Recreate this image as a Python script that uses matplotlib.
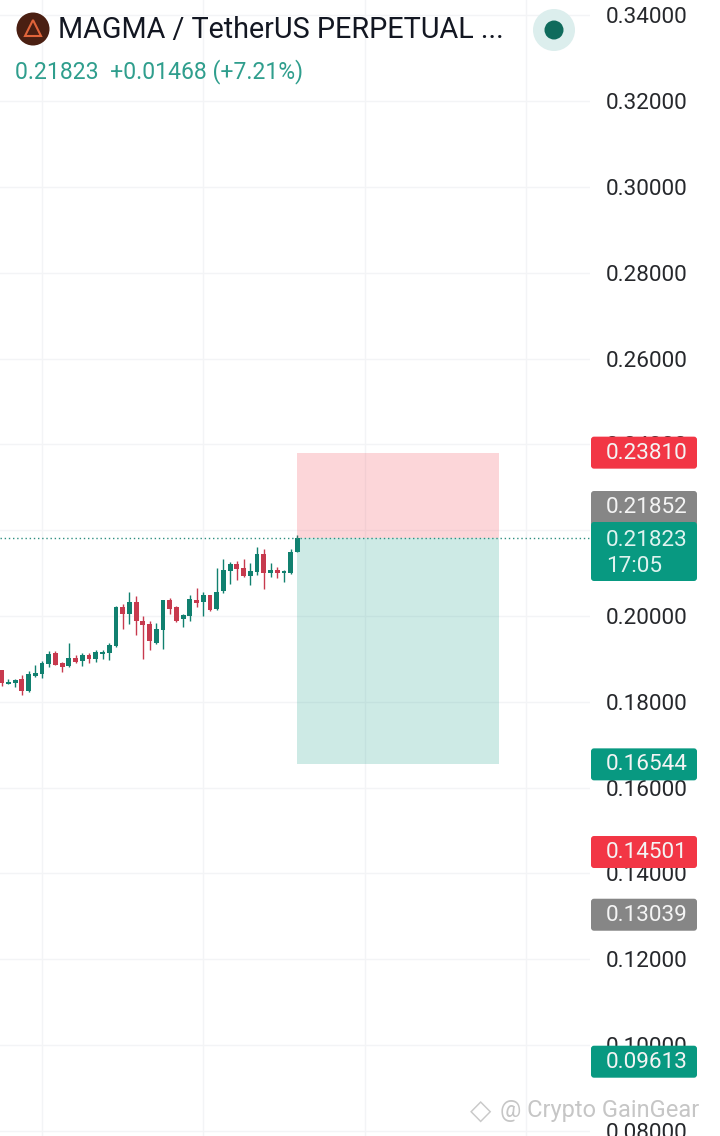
import matplotlib
matplotlib.use("Agg")
import matplotlib.pyplot as plt
from matplotlib.patches import FancyBboxPatch, Circle, Rectangle, Polygon

plt.rcParams['font.family'] = ['Roboto', 'DejaVu Sans']

title = "MAGMA / TetherUS PERPETUAL ..."
quote = "0.21823  +0.01468 (+7.21%)"
y_ticks = [0.08, 0.10, 0.12, 0.14, 0.16, 0.18, 0.20, 0.22, 0.24, 0.26, 0.28, 0.30, 0.32, 0.34]
x_grid = [6, 30, 54, 78]

highs = [.18744,.18526,.18534,.18619,.18728,.18860,.18961,.19194,.19179,.18938,.19365,.19085,.19132,.19132,.19202,.19202,.19365,.20243,.20282,.20562,.20461,.20002,.19894,.19847,
         .20375,.20414,.20243,.20041,.20500,.20655,.20569,.20484,.21129,.21323,.21261,.21277,.21323,.21230,.21618,.21572,.21245,.21152,.21074,.21572,.21898]
tops = [.18736,.18464,.18518,.18526,.18643,.18666,.18899,.19124,.19140,.18899,.19016,.19016,.19085,.19085,.19163,.19163,.19319,.20204,.20204,.20321,.20321,.19894,.19816,.19692,
        .20375,.20375,.20204,.20018,.20391,.20375,.20484,.20484,.20569,.21067,.21214,.21207,.21121,.21043,.21440,.21440,.21074,.21074,.21043,.21502,.21820]
bots = [.18433,.18425,.18433,.18262,.18262,.18612,.18650,.18876,.18868,.18821,.18829,.18938,.18946,.19008,.19008,.19117,.19132,.19303,.20041,.20041,.19878,.19785,.19420,.19381,
        .19668,.20158,.19893,.19925,.19994,.20305,.20321,.20150,.20158,.20577,.21043,.21090,.20935,.20935,.21020,.20997,.21012,.20997,.20997,.20997,.21486]
lows = [.18378,.18417,.18340,.18169,.18239,.18588,.18565,.18821,.18852,.18705,.18814,.18907,.18845,.18915,.18938,.19008,.18984,.19287,.19707,.19808,.19567,.19008,.19210,.19350,
        .19225,.20041,.19855,.19738,.19878,.20220,.20002,.20111,.20142,.20538,.20756,.20849,.20919,.20717,.20950,.20624,.20904,.20896,.20795,.20973,.21486]
is_up = [0,1,1,0,1,1,1,1,0,0,1,0,1,0,1,1,1,1,0,1,0,0,0,1,
         1,0,0,1,1,0,1,0,1,1,1,0,0,1,1,0,1,0,1,1,1]

entry_price = 0.21823
stop_price = 0.23810
target_price = 0.16544
box_start, box_end = 44, 74

badges = [("0.23810", 0.23810, "#f23645"), ("0.16544", 0.16544, "#089981"),
          ("0.14501", 0.14501, "#f23645"), ("0.13039", 0.13039, "#868686"),
          ("0.09613", 0.09613, "#089981")]

UP, DOWN = "#11806f", "#c73a4e"
W, H = 720, 1136
PLOT_R = 590
dpi = 100

fig = plt.figure(figsize=(W / dpi, H / dpi), dpi=dpi, facecolor="white")
ax = fig.add_axes([0, 0, PLOT_R / W, 1])
ax.set_xlim(-0.253, (PLOT_R - 1.7) / 6.72)
ax.set_ylim(0.07881, 0.34361)
for s in ax.spines.values():
    s.set_visible(False)
ax.set_xticks(x_grid)
ax.set_yticks(y_ticks)
ax.set_yticklabels([f"{v:.5f}" for v in y_ticks])
ax.yaxis.tick_right()
ax.tick_params(axis="y", length=0, pad=11.5, labelsize=16.2, labelcolor="#26282c")
ax.tick_params(axis="x", length=0, labelbottom=False)
ax.grid(True, color="#f3f4f6", linewidth=1)
ax.set_axisbelow(True)

for i, (hi, top, bot, lo, up) in enumerate(zip(highs, tops, bots, lows, is_up)):
    c = UP if up else DOWN
    ax.vlines(i, lo, hi, color=c, linewidth=1.0, zorder=3)
    ax.bar(i, top - bot, bottom=bot, width=0.72, color=c, zorder=3.1, linewidth=0)

ax.axhspan(entry_price, stop_price, xmin=0, xmax=0, alpha=0)
ax.bar((box_start + box_end) / 2, stop_price - entry_price, bottom=entry_price,
       width=box_end - box_start, color="#f23645", alpha=0.2, linewidth=0, zorder=4)
ax.bar((box_start + box_end) / 2, entry_price - target_price, bottom=target_price,
       width=box_end - box_start, color="#089981", alpha=0.2, linewidth=0, zorder=4)
ax.axhline(entry_price, color="#2f8f80", linewidth=1, linestyle=(0, (1, 2)), zorder=5)

# overlay in pixel coordinates for the price badges and header
ov = fig.add_axes([0, 0, 1, 1], zorder=10)
ov.set_xlim(0, W)
ov.set_ylim(H, 0)
ov.axis("off")
ov.patch.set_alpha(0)

def price_y(p):
    return 15.5 + (0.34 - p) * 4290

def badge(y0, y1, color, x0=591, x1=697):
    ov.add_patch(FancyBboxPatch((x0 + 3, y0 + 3), x1 - x0 - 6, y1 - y0 - 6,
                                boxstyle="round,pad=3,rounding_size=3",
                                fc=color, ec="none"))

for label, price, color in badges:
    yc = price_y(price)
    badge(yc - 16, yc + 16, color)
    ov.text(606, yc + 0.5, label, color="#f4f4f4", fontsize=16.2, va="center", ha="left")

badge(491, 526, "#868686")
ov.text(606, 507.5, "0.21852", color="#f4f4f4", fontsize=16.2, va="center", ha="left")
badge(522, 581, "#089981")
ov.text(606, 540, "0.21823", color="#dff3ef", fontsize=16.2, va="center", ha="left")
ov.text(606, 566, "17:05", color="#dff3ef", fontsize=16.2, va="center", ha="left")

# header
ov.add_patch(Circle((33, 29), 16.5, fc="#4a1f12", ec="none"))
ov.add_patch(Polygon([(33, 20), (41, 36), (25, 36)], closed=True, fc="none", ec="#e0643a", lw=1.5))
ov.text(58, 29.5, title, color="#131722", fontsize=20.7, va="center", ha="left")
ov.text(15, 72, quote, color="#2f9e8d", fontsize=16.6, va="center", ha="left")
ov.add_patch(Circle((554, 30), 21, fc="#dceeed", ec="none"))
ov.add_patch(Circle((554, 30), 9.5, fc="#0f6b5c", ec="none"))

# watermark
ov.text(481, 1111, "\u25c7", color="#c9c9c9", fontsize=20, va="center", ha="center")
ov.text(500, 1111, "@ Crypto GainGear", color="#c6c6c6", fontsize=17, va="center", ha="left")

fig.savefig("out.png", dpi=dpi, facecolor="white")
